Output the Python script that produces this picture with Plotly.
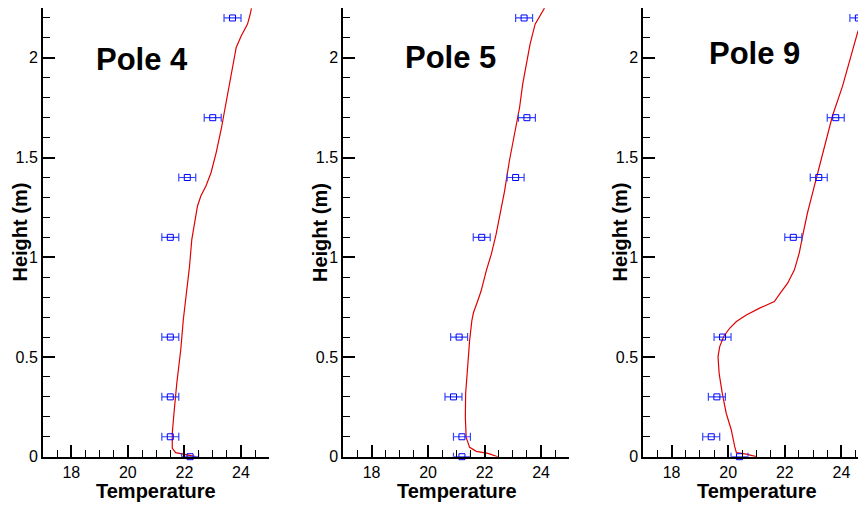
import plotly.graph_objects as go

# ---------------- data ----------------
heights = [0.0, 0.1, 0.3, 0.6, 1.1, 1.4, 1.7, 2.2]
temp_err = 0.3

pole4_meas = [22.2, 21.5, 21.5, 21.5, 21.5, 22.1, 23.0, 23.7]
pole5_meas = [21.2, 21.2, 20.9, 21.1, 21.9, 23.1, 23.5, 23.4]
pole9_meas = [20.4, 19.4, 19.6, 19.8, 22.3, 23.2, 23.8, 24.6]

pole4_sim_T = [22.40, 21.99, 21.69, 21.57, 21.57, 21.63, 21.73, 21.87, 21.96, 22.07, 22.18, 22.26, 22.35,
               22.46, 22.58, 22.76, 22.94, 23.12, 23.30, 23.45, 23.60, 23.69, 23.83, 24.01, 24.23, 24.31, 24.37]
pole4_sim_h = [0.0, 0.013, 0.02, 0.042, 0.117, 0.218, 0.369, 0.536, 0.687, 0.821, 0.955, 1.089, 1.156,
               1.256, 1.307, 1.357, 1.424, 1.524, 1.642, 1.759, 1.876, 1.960, 2.052, 2.111, 2.169, 2.211, 2.248]

pole5_sim_T = [22.47, 22.12, 21.71, 21.47, 21.35, 21.32, 21.33, 21.39, 21.47, 21.55, 21.61, 21.76, 21.88,
               22.06, 22.24, 22.41, 22.53, 22.71, 22.88, 23.06, 23.24, 23.35, 23.47, 23.61, 23.79, 23.88, 24.12]
pole5_sim_h = [0.0, 0.017, 0.027, 0.047, 0.097, 0.197, 0.314, 0.448, 0.581, 0.682, 0.723, 0.782, 0.832,
               0.932, 1.016, 1.116, 1.2, 1.333, 1.484, 1.617, 1.751, 1.868, 1.968, 2.068, 2.169, 2.189, 2.249]

pole9_sim_T = [20.99, 20.64, 20.29, 20.23, 20.11, 19.93, 19.79, 19.68, 19.64, 19.70, 19.84, 20.05, 20.29,
               20.64, 21.11, 21.63, 21.84, 22.10, 22.34, 22.51, 22.65, 22.80, 22.98, 23.16, 23.39, 23.68,
               24.04, 24.45, 24.57, 24.83, 24.95]
pole9_sim_h = [0.0, 0.013, 0.02, 0.05, 0.134, 0.218, 0.318, 0.418, 0.502, 0.552, 0.603, 0.644, 0.678,
               0.711, 0.745, 0.778, 0.820, 0.870, 0.937, 1.021, 1.121, 1.222, 1.322, 1.423, 1.556, 1.707,
               1.858, 2.059, 2.126, 2.226, 2.26]

pole_names = ["Pole 4", "Pole 5", "Pole 9"]
pole_label_pos = [(20.51, 1.99), (20.8, 2.0), (20.93, 2.02)]

# ---------------- figure ----------------
# The page has an 8 px body margin, so the figure is sized to fit the window.
OFF = 8
W, H = 866 - OFF, 506 - OFF
FONT = "Liberation Sans, Arial, sans-serif"

fig = go.Figure()

panels = [
    (pole4_meas, pole4_sim_T, pole4_sim_h),
    (pole5_meas, pole5_sim_T, pole5_sim_h),
    (pole9_meas, pole9_sim_T, pole9_sim_h),
]

for i, (meas, simT, simH) in enumerate(panels):
    xa = "x" if i == 0 else f"x{i+1}"
    ya = "y" if i == 0 else f"y{i+1}"
    fig.add_trace(go.Scatter(
        x=simT, y=simH, mode="lines", xaxis=xa, yaxis=ya,
        line=dict(color="#e00000", width=1.2), showlegend=False))
    fig.add_trace(go.Scatter(
        x=meas, y=heights, mode="markers", xaxis=xa, yaxis=ya,
        marker=dict(symbol="square-open", size=6, color="#0000ff", line=dict(width=1)),
        error_x=dict(type="constant", value=temp_err, color="#3344ff", thickness=1.2, width=4),
        cliponaxis=False, showlegend=False))

def px_x(p):
    return (p - OFF) / W

def px_y(p):
    return 1 - (p - OFF) / H

x_domains = [[px_x(43), px_x(269.3)], [px_x(343.3), px_x(569.3)], [px_x(643.3), 1.0]]
x_ranges = [[17, 25], [17, 25], [17, 17 + (866 - 643.3) / 28.3]]
y_domain = [px_y(456.7), 1.0]

layout = dict(
    width=W, height=H,
    margin=dict(l=0, r=0, t=0, b=0),
    paper_bgcolor="white", plot_bgcolor="white",
    font=dict(family=FONT, size=16, color="black"),
    showlegend=False,
)

for i in range(3):
    xk = "xaxis" if i == 0 else f"xaxis{i+1}"
    yk = "yaxis" if i == 0 else f"yaxis{i+1}"
    yref = "y" if i == 0 else f"y{i+1}"
    xref = "x" if i == 0 else f"x{i+1}"
    layout[xk] = dict(
        domain=x_domains[i], range=x_ranges[i], anchor=yref,
        showline=True, linecolor="black", linewidth=2,
        showgrid=False, zeroline=False,
        ticks="inside", ticklen=12, tickwidth=2, tickcolor="black",
        tick0=18, dtick=2,
        minor=dict(ticks="inside", ticklen=7, tickwidth=1.2, tickcolor="black", dtick=0.5, tick0=17, showgrid=False),
        tickfont=dict(family=FONT, size=16, color="black"),
        automargin=False, fixedrange=True,
    )
    layout[yk] = dict(
        domain=y_domain, range=[0, 2.25], anchor=xref,
        showline=True, linecolor="black", linewidth=2,
        showgrid=False, zeroline=False,
        ticks="inside", ticklen=12, tickwidth=2, tickcolor="black",
        tick0=0, dtick=0.5,
        minor=dict(ticks="inside", ticklen=7, tickwidth=1.2, tickcolor="black", dtick=0.1, tick0=0, showgrid=False),
        tickfont=dict(family=FONT, size=16, color="black"),
        automargin=False, fixedrange=True,
    )

annotations = []
temp_title_x = [156, 456.5, 756.7]
height_title_x = [19, 319.5, 619]
for i in range(3):
    xref = "x" if i == 0 else f"x{i+1}"
    yref = "y" if i == 0 else f"y{i+1}"
    px, py = pole_label_pos[i]
    annotations.append(dict(
        text=f"<b>{pole_names[i]}</b>", x=px, y=py, xref=xref, yref=yref,
        showarrow=False, xanchor="center", yanchor="middle",
        font=dict(family=FONT, size=31, color="black")))
    annotations.append(dict(
        text="<b>Temperature</b>", x=px_x(temp_title_x[i]), y=px_y(490.5),
        xref="paper", yref="paper", showarrow=False, xanchor="center", yanchor="middle",
        font=dict(family=FONT, size=20, color="black")))
    annotations.append(dict(
        text="<b>Height (m)</b>", x=px_x(height_title_x[i]), y=px_y(232.5),
        xref="paper", yref="paper", showarrow=False, xanchor="center", yanchor="middle",
        textangle=-90, font=dict(family=FONT, size=20, color="black")))

layout["annotations"] = annotations
fig.update_layout(**layout)

fig.write_html("out.html")
